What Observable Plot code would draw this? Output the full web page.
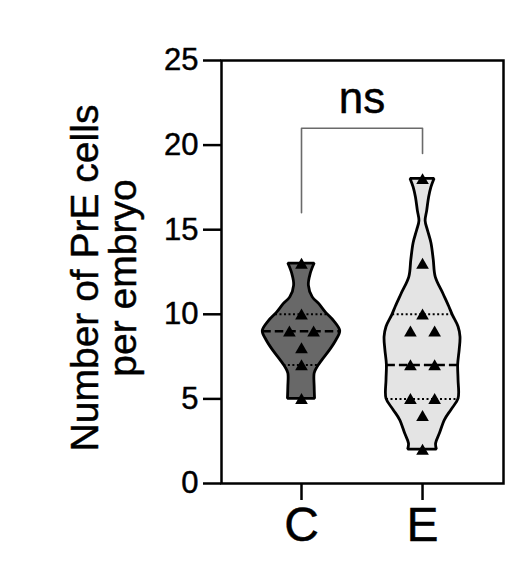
<!DOCTYPE html>
<html>
<head>
<meta charset="utf-8">
<script src="https://cdn.jsdelivr.net/npm/d3@7"></script>
<script src="https://cdn.jsdelivr.net/npm/@observablehq/plot@0.6"></script>
<style>
  html, body { margin: 0; padding: 0; background: #fff; }
  #chart { width: 529px; height: 568px; }
  #chart svg text { stroke: #000; stroke-width: 0.45px; paint-order: stroke; }
</style>
</head>
<body>
<div id="chart"></div>
<script>
// ---- Data ----
const groups = ["C", "E"];
const cValues = [13, 10, 9, 9, 8, 7, 5];
const eValues = [18, 13, 10, 9, 9, 7, 7, 5, 5, 4, 2];
// quartiles [Q1, median, Q3]
const cQuartiles = [7, 9, 10];
const eQuartiles = [5, 7, 10];
// violin outline: value levels and relative half-widths (density)
const cProfileLevels = [13.0, 12.4, 11.7, 11.0, 10.6, 10.1, 9.6, 9.0, 8.45, 7.85, 7.25, 6.85, 6.5, 5.7, 5.0];
const cProfileDensity = [0.34, 0.24, 0.19, 0.29, 0.46, 0.63, 0.84, 1.0, 0.90, 0.73, 0.53, 0.41, 0.34, 0.34, 0.35];
const eProfileLevels = [18, 17.5, 16.9, 16.1, 15.5, 14.95, 14.2, 13.2, 12.2, 11.2, 10.45, 9.95, 9.25, 8.65, 7.9, 7.0, 6.1, 5.0, 4.35, 3.75, 2.95, 2.35, 2.0];
const eProfileDensity = [0.31, 0.23, 0.17, 0.12, 0.08, 0.14, 0.23, 0.29, 0.34, 0.54, 0.69, 0.78, 0.93, 0.98, 0.96, 0.92, 0.93, 0.93, 0.75, 0.58, 0.45, 0.35, 0.37];
const yTicks = [0, 5, 10, 15, 20, 25];
const bracketLevels = [16, 21, 19.5]; // left leg bottom, top, right leg bottom
const annotation = "ns";
const yLabel = "Number of PrE cells\nper embryo";

// ---- Build tables ----
const halfWidth = 0.32;   // max half-width of a violin in x units
const spread = 0.1;       // horizontal spread for tied points
const valuesByGroup = [cValues, eValues];
const quartilesByGroup = [cQuartiles, eQuartiles];
const levelsByGroup = [cProfileLevels, eProfileLevels];
const densityByGroup = [cProfileDensity, eProfileDensity];
const fills = ["#686868", "#e4e4e4"];

const violins = groups.map((g, i) =>
  levelsByGroup[i].map((y, j) => ({group: g, pos: i + 1, y, w: densityByGroup[i][j] * halfWidth}))
);

const points = groups.flatMap((g, i) => {
  const counts = d3.rollup(valuesByGroup[i], v => v.length, v => v);
  const seen = new Map();
  return valuesByGroup[i].map(v => {
    const n = counts.get(v);
    const k = seen.get(v) || 0;
    seen.set(v, k + 1);
    return {group: g, value: v, x: i + 1 + (k - (n - 1) / 2) * 2 * spread};
  });
});

function widthAt(i, y) {
  const L = levelsByGroup[i], D = densityByGroup[i];
  for (let j = 0; j < L.length - 1; j++) {
    const a = L[j], b = L[j + 1];
    if ((y <= a && y >= b)) {
      const t = (a - b) === 0 ? 0 : (a - y) / (a - b);
      return (D[j] + t * (D[j + 1] - D[j])) * halfWidth;
    }
  }
  return 0;
}

const quartileRows = groups.flatMap((g, i) =>
  quartilesByGroup[i].map((q, k) => ({group: g, pos: i + 1, y: q, kind: k === 1 ? "median" : "quartile", w: widthAt(i, q)}))
);

const bracket = [
  {x: 1, y: bracketLevels[0]},
  {x: 1, y: bracketLevels[1]},
  {x: 2, y: bracketLevels[1]},
  {x: 2, y: bracketLevels[2]}
];

const font = "'Liberation Sans', Arial, Helvetica, sans-serif";

const chart = Plot.plot({
  width: 529,
  height: 568,
  marginLeft: 221,
  marginRight: 26,
  marginTop: 60,
  marginBottom: 85,
  style: {fontFamily: font, background: "#fff", color: "#000"},
  x: {type: "linear", domain: [0.339, 2.669]},
  y: {domain: [0, 25]},
  marks: [
    ...violins.map((rows, i) => Plot.areaX(rows, {
      y: "y",
      x1: d => d.pos - d.w,
      x2: d => d.pos + d.w,
      fill: fills[i],
      stroke: "#000",
      strokeWidth: 2.8,
      strokeLinejoin: "miter",
      curve: "catmull-rom"
    })),
    Plot.ruleY(quartileRows.filter(d => d.kind === "quartile"), {
      y: "y", x1: d => d.pos - d.w, x2: d => d.pos + d.w,
      stroke: "#000", strokeWidth: 2, strokeDasharray: "2,2.5"
    }),
    Plot.ruleY(quartileRows.filter(d => d.kind === "median"), {
      y: "y", x1: d => d.pos - d.w, x2: d => d.pos + d.w,
      stroke: "#000", strokeWidth: 2.5, strokeDasharray: "8.5,4"
    }),
    Plot.dot(points, {x: "x", y: "value", symbol: "triangle", r: 4.7, dy: 1.5, fill: "#000", stroke: "none"}),
    Plot.line(bracket, {x: "x", y: "y", stroke: "#6a6a6a", strokeWidth: 1.6}),
    Plot.text([annotation], {x: [1.5], y: [22.75], text: d => d, fontSize: 44, lineAnchor: "middle", fill: "#000"}),
    Plot.frame({stroke: "#000", strokeWidth: 2.5}),
    Plot.axisY({ticks: yTicks, tickSize: 18, tickPadding: 5, fontSize: 31, strokeWidth: 2.5, label: null}),
    Plot.axisX({ticks: [1, 2], tickFormat: d => groups[d - 1], tickSize: 17, tickPadding: 6, fontSize: 48, strokeWidth: 2.5, label: null}),
    Plot.text([yLabel], {frameAnchor: "left", dx: -117, dy: 6, rotate: -90, text: d => d, fontSize: 39, lineHeight: 0.98, lineAnchor: "middle", textAnchor: "middle", fill: "#000"})
  ]
});

document.getElementById("chart").appendChild(chart);
</script>
</body>
</html>
